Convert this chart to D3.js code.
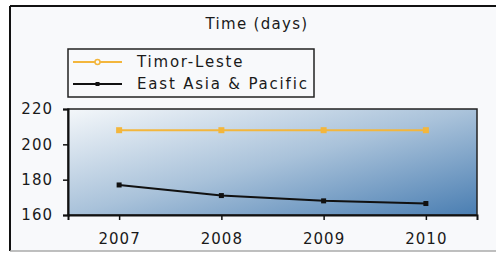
<!DOCTYPE html>
<html>
<head>
<meta charset="utf-8">
<script src="https://cdn.jsdelivr.net/npm/d3@7"></script>
<style>
  body { margin: 0; background: #fff; }
  svg text { font-family: "DejaVu Sans", sans-serif; fill: #1a1a1a; }
</style>
</head>
<body>
<div id="chart"></div>
<script>
// chart data
var years = ["2007", "2008", "2009", "2010"];
var timorLeste = [208, 208, 208, 208];
var eastAsia = [177, 171, 168, 166.5];
var yTicks = [160, 180, 200, 220];
var seriesNames = ["Timor-Leste", "East Asia & Pacific"];
var chartTitle = "Time (days)";

var width = 496, height = 254;
var plot = {left: 68, top: 109, right: 477, bottom: 215};

var svg = d3.select("#chart").append("svg")
    .attr("width", width)
    .attr("height", height);

// outer frame
svg.append("rect")
    .attr("x", 10).attr("y", 6)
    .attr("width", width).attr("height", 245)
    .attr("fill", "#f8f9fb");
svg.append("line").attr("x1", 10).attr("x2", width).attr("y1", 6).attr("y2", 6)
    .attr("stroke", "#111").attr("stroke-width", 2);
svg.append("line").attr("x1", 10).attr("x2", 10).attr("y1", 6).attr("y2", 251)
    .attr("stroke", "#111").attr("stroke-width", 2);
svg.append("line").attr("x1", 10).attr("x2", width).attr("y1", 251).attr("y2", 251)
    .attr("stroke", "#aaa").attr("stroke-width", 1.5);

// gradient for plot area
var defs = svg.append("defs");
var grad = defs.append("linearGradient")
    .attr("id", "bg")
    .attr("x1", "0%").attr("y1", "0%")
    .attr("x2", "100%").attr("y2", "100%");
grad.append("stop").attr("offset", "0%").attr("stop-color", "#f4f7fa");
grad.append("stop").attr("offset", "50%").attr("stop-color", "#a9c2da");
grad.append("stop").attr("offset", "100%").attr("stop-color", "#4a7eb2");

// scales
var x = d3.scalePoint().domain(years).range([plot.left, plot.right]).padding(0.5);
var y = d3.scaleLinear().domain([160, 220]).range([plot.bottom, plot.top]);

svg.append("rect")
    .attr("x", plot.left).attr("y", plot.top)
    .attr("width", plot.right - plot.left)
    .attr("height", plot.bottom - plot.top)
    .attr("fill", "url(#bg)")
    .attr("stroke", "#222").attr("stroke-width", 1.5);

// axes
var yAxis = d3.axisLeft(y).tickValues(yTicks).tickSize(5).tickPadding(10);
var gy = svg.append("g")
    .attr("transform", "translate(" + plot.left + ",0)")
    .call(yAxis);
gy.select(".domain").attr("stroke", "#111").attr("stroke-width", 2);
gy.selectAll(".tick line").attr("stroke", "#111").attr("stroke-width", 1.5);
gy.selectAll("text")
    .style("font-size", "15px").style("letter-spacing", "1px")
    .style("font-family", "DejaVu Sans, sans-serif").attr("fill", "#1a1a1a");

var xAxis = d3.axisBottom(x).tickSize(5).tickPadding(13);
var gx = svg.append("g")
    .attr("transform", "translate(0," + plot.bottom + ")")
    .call(xAxis);
gx.select(".domain").attr("stroke", "#111").attr("stroke-width", 2);
gx.selectAll(".tick line").attr("stroke", "#111").attr("stroke-width", 1.5);
gx.selectAll("text")
    .style("font-size", "15px").style("letter-spacing", "1px")
    .style("font-family", "DejaVu Sans, sans-serif").attr("fill", "#1a1a1a");

// lines
var line = d3.line()
    .x(function(d, i) { return x(years[i]); })
    .y(function(d) { return y(d); });

svg.append("path").datum(timorLeste)
    .attr("d", line).attr("fill", "none")
    .attr("stroke", "#f3b63c").attr("stroke-width", 2);
svg.selectAll(".m1").data(timorLeste).enter().append("rect")
    .attr("class", "m1")
    .attr("x", function(d, i) { return x(years[i]) - 3; })
    .attr("y", function(d) { return y(d) - 3; })
    .attr("width", 6).attr("height", 6)
    .attr("fill", "#f3b63c");

svg.append("path").datum(eastAsia)
    .attr("d", line).attr("fill", "none")
    .attr("stroke", "#111").attr("stroke-width", 2);
svg.selectAll(".m2").data(eastAsia).enter().append("rect")
    .attr("class", "m2")
    .attr("x", function(d, i) { return x(years[i]) - 2.5; })
    .attr("y", function(d) { return y(d) - 2.5; })
    .attr("width", 5).attr("height", 5)
    .attr("fill", "#111");

// title
svg.append("text")
    .attr("x", 257).attr("y", 29)
    .attr("text-anchor", "middle")
    .style("font-size", "15px").style("letter-spacing", "1.3px")
    .text(chartTitle);

// legend
svg.append("rect")
    .attr("x", 68).attr("y", 49)
    .attr("width", 246).attr("height", 48)
    .attr("fill", "none").attr("stroke", "#222").attr("stroke-width", 1.5);

var legendColors = ["#f3b63c", "#111"];
var legendY = [62, 84];
seriesNames.forEach(function(name, i) {
    svg.append("line")
        .attr("x1", 73).attr("x2", 122)
        .attr("y1", legendY[i]).attr("y2", legendY[i])
        .attr("stroke", legendColors[i]).attr("stroke-width", 2);
    if (i == 0) {
        svg.append("circle").attr("cx", 97.5).attr("cy", legendY[i]).attr("r", 2.5)
            .attr("fill", "#f8f9fb").attr("stroke", legendColors[i]).attr("stroke-width", 1.5);
    } else {
        svg.append("rect").attr("x", 95.5).attr("y", legendY[i] - 2)
            .attr("width", 4).attr("height", 4).attr("fill", legendColors[i]);
    }
    svg.append("text")
        .attr("x", 137).attr("y", legendY[i] + 5)
        .style("font-size", "15px").style("letter-spacing", "1.8px")
        .text(name);
});
</script>
</body>
</html>
